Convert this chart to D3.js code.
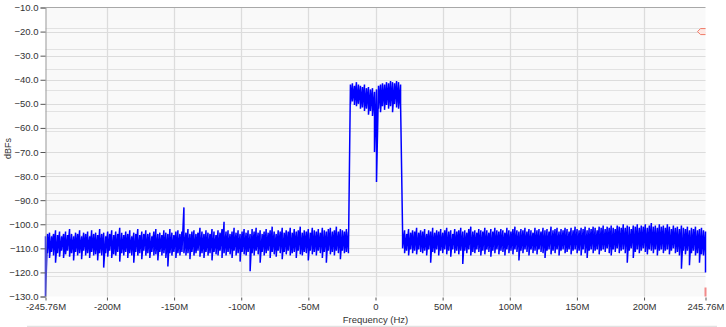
<!DOCTYPE html>
<html>
<head>
<meta charset="utf-8">
<script src="https://cdn.jsdelivr.net/npm/d3@7"></script>
<style>
  html, body { margin: 0; padding: 0; background: #ffffff; }
  svg { display: block; }
  text { font-family: "Liberation Sans", Arial, sans-serif; fill: #333; }
</style>
</head>
<body>
<script>
// ---- Data ----
const freqStartMHz = -245.76;
const freqEndMHz = 245.76;
const xTickValues = [-245.76, -200, -150, -100, -50, 0, 50, 100, 150, 200, 245.76];
const xTickLabels = ["-245.76M", "-200M", "-150M", "-100M", "-50M", "0", "50M", "100M", "150M", "200M", "245.76M"];
const xGridValues = [-200, -150, -100, -50, 0, 50, 100, 150, 200];
const yTickValues = [-10, -20, -30, -40, -50, -60, -70, -80, -90, -100, -110, -120, -130];
const yDomain = [-130, -10];
const minorGridDivisions = 14;
const markerLevel = -20;

// spectrum bins: per bin, the upper and lower excursion of the trace (dBFs)
const leftNoiseHi = [
 -105,-104,-103.5,-105,-104,-102.5,-104.5,-103,-105,-104,
 -103,-104.5,-102,-104,-105,-103.5,-104,-102.5,-105,-103.5,
 -104,-103,-105,-102.5,-104,-103.5,-104.5,-102,-104,-103.5,
 -105,-103,-104,-102.5,-104.5,-103,-104,-101.5,-103.5,-104.5,
 -103,-104,-102.5,-105,-103.5,-104,-102,-104.5,-103,-104,
 -102.5,-104,-103.5,-105,-103,-102,-104,-103.5,-104.5,-102.5,
 -103.5,-104,-102,-103.5,-104.5,-103,-102.5,-104,-103,-93,
 -103.5,-102,-104,-103,-102.5,-104,-103.5,-101.5,-103,-104,
 -102.5,-103.5,-104,-102,-103,-104.5,-102.5,-103.5,-102,-99,
 -103,-102.5,-104,-103,-101.5,-103.5,-102.5,-104,-103,-102,
 -103.5,-102.5,-104,-102,-103,-101.5,-103.5,-102.5,-104,-103,
 -102,-103.5,-102.5,-101,-103,-104,-102.5,-103,-101.5,-103.5,
 -102.5,-103,-101.5,-103.5,-102,-103,-102.5,-101,-103.5,-102.5,
 -103,-102,-103.5,-101.5,-102.5,-103,-102,-103.5,-101.5,-102.5,
 -103,-102,-101.5,-103,-102.5,-101,-103,-102,-102.5,-103,
 -102,-103
];
const leftNoiseLo = [
 -130,-112,-114,-111.5,-113,-116,-112,-113.5,-111,-114,
 -112.5,-111,-113.5,-112,-115,-111.5,-113,-112,-114.5,-111,
 -113,-112,-114,-111.5,-113,-112.5,-115,-112,-113,-118,
 -112,-113.5,-111,-114,-112.5,-113,-111.5,-115.5,-112,-113,
 -111.5,-114,-112,-113,-116,-111.5,-113,-112,-114.5,-111,
 -113,-112,-114,-111.5,-113,-112.5,-115,-111.5,-113,-112,
 -114,-117.5,-112,-113,-111.5,-114,-112,-113,-111.5,-112,
 -113,-112,-114.5,-111.5,-113,-112,-111,-113.5,-112,-114,
 -111.5,-113,-112,-115,-111.5,-112.5,-113,-111,-114,-112,
 -113,-111.5,-112.5,-114,-111,-113,-112,-115.5,-111.5,-112.5,
 -113,-111.5,-119.5,-112,-113,-111,-112.5,-116,-111.5,-113,
 -112,-111,-114,-111.5,-112.5,-113.5,-111,-112,-114.5,-111.5,
 -112.5,-111,-113,-112,-111.5,-114,-111,-112.5,-113,-111.5,
 -112,-115,-111,-112.5,-111.5,-113,-111,-112,-114,-111.5,
 -116,-111,-112.5,-111.5,-113,-111,-112,-114.5,-111,-112,
 -111.5,-112
];
const bandHi = [
 -42,-41.5,-42.5,-41,-42,-42.5,-43,-42,-43.5,-43,
 -44,-43.5,-45,-44,-42.5,-42,-41.5,-42,-41,-41.5,
 -40.5,-41,-41.5,-40.5,-41,-42
];
const bandLo = [
 -50,-49,-50.5,-51,-50,-52,-51.5,-53,-52,-54.5,
 -53,-55,-70,-82.5,-52,-53.5,-51,-52.5,-50.5,-52,
 -51,-53.5,-50,-51.5,-52,-50
];
const rightNoiseHi = [
 -103,-102.5,-104,-102,-103.5,-102.5,-103,-101.5,-103.5,-102.5,
 -103,-102,-104,-102.5,-103,-101.5,-103.5,-102.5,-103,-102,
 -103.5,-102.5,-101.5,-103,-102.5,-104,-102,-103,-102.5,-101.5,
 -103,-102.5,-103.5,-102,-101,-103,-102.5,-103.5,-102,-102.5,
 -103,-101.5,-102.5,-103.5,-102,-103,-101.5,-102.5,-103,-102,
 -102.5,-103.5,-101.5,-102.5,-103,-102,-101,-102.5,-103,-102,
 -102.5,-101.5,-103,-102,-102.5,-103.5,-101.5,-102.5,-102,-103,
 -101.5,-102.5,-102,-103,-101,-102.5,-102,-101.5,-103,-102,
 -102.5,-101.5,-102,-103,-101.5,-102.5,-101,-102,-102.5,-101.5,
 -102,-101,-102.5,-101.5,-102,-101,-101.5,-102.5,-101,-101.5,
 -100.5,-102,-101,-101.5,-100.5,-101.5,-102,-100.5,-101,-101.5,
 -100,-101.5,-100.5,-101,-102,-100.5,-101,-100,-101.5,-100.5,
 -101,-100,-101.5,-100.5,-99.5,-101,-100.5,-101.5,-100,-101,
 -100.5,-101.5,-100,-101,-102,-100.5,-101.5,-101,-102,-100.5,
 -101.5,-102,-101,-102.5,-101.5,-102,-101,-102.5,-102,-101.5,
 -102.5,-103
];
const rightNoiseLo = [
 -110,-112,-111,-113,-110.5,-112,-111,-112.5,-110.5,-111.5,
 -112,-111,-113,-110.5,-116,-111.5,-112,-110.5,-113,-111,
 -112,-110.5,-112.5,-111,-113.5,-110.5,-112,-111,-112.5,-111,
 -116.5,-111,-112,-110.5,-113,-111.5,-112,-110.5,-111.5,-113,
 -111,-112.5,-110.5,-111.5,-113.5,-111,-112,-110.5,-112.5,-111,
 -111.5,-113,-110.5,-112,-111,-112.5,-110.5,-111.5,-115,-111,
 -112,-110.5,-111.5,-113,-110.5,-112,-111,-112.5,-110.5,-111.5,
 -112,-114,-111,-110.5,-112.5,-111,-112,-110.5,-113,-111,
 -110.5,-112,-111.5,-110.5,-112.5,-111,-110.5,-112,-111,-113,
 -110.5,-112,-114,-111,-110.5,-112,-111,-110.5,-112.5,-111,
 -110.5,-111.5,-110,-112,-113,-110.5,-111.5,-110,-112,-111,
 -110.5,-112,-116,-111,-110,-114,-111.5,-110.5,-112,-111,
 -110,-111.5,-112.5,-110.5,-111,-112,-110.5,-113,-111,-110.5,
 -112,-111,-110.5,-112.5,-111,-110,-112,-111.5,-113,-118.5,
 -111,-112.5,-111,-117,-112,-111,-113,-112,-116,-112.5,
 -113,-120
];

// ---- Build ----
const W = 726, H = 327;
const plot = { left: 45.5, right: 705.5, top: 7.5, bottom: 296.5 };

const svg = d3.select("body").append("svg").attr("width", W).attr("height", H);

const x = d3.scaleLinear().domain([freqStartMHz, freqEndMHz]).range([plot.left, plot.right]);
const y = d3.scaleLinear().domain(yDomain).range([plot.bottom, plot.top]);

// plot background
svg.append("rect")
  .attr("x", plot.left).attr("y", plot.top)
  .attr("width", plot.right - plot.left).attr("height", plot.bottom - plot.top)
  .attr("fill", "#f9f9f9");

// minor horizontal grid (secondary division)
const minorVals = d3.range(1, minorGridDivisions).map(k => yDomain[1] - k * (yDomain[1] - yDomain[0]) / minorGridDivisions);
svg.append("g").selectAll("line").data(minorVals).join("line")
  .attr("x1", plot.left).attr("x2", plot.right)
  .attr("y1", d => Math.round(y(d)) + 0.5).attr("y2", d => Math.round(y(d)) + 0.5)
  .attr("stroke", "#e2e2e2").attr("stroke-width", 1);

// major horizontal grid
svg.append("g").selectAll("line").data(yTickValues.filter(v => v > yDomain[0] && v < yDomain[1])).join("line")
  .attr("x1", plot.left).attr("x2", plot.right)
  .attr("y1", d => Math.round(y(d)) + 0.5).attr("y2", d => Math.round(y(d)) + 0.5)
  .attr("stroke", "#dcdcdc").attr("stroke-width", 1);

// vertical grid
svg.append("g").selectAll("line").data(xGridValues).join("line")
  .attr("x1", d => Math.round(x(d)) + 0.5).attr("x2", d => Math.round(x(d)) + 0.5)
  .attr("y1", plot.top).attr("y2", plot.bottom)
  .attr("stroke", "#dcdcdc").attr("stroke-width", 1.3);

// top border
svg.append("line")
  .attr("x1", plot.left).attr("x2", plot.right)
  .attr("y1", plot.top).attr("y2", plot.top)
  .attr("stroke", "#a8a8a8").attr("stroke-width", 1);

// spectrum trace (each bin drawn as its vertical excursion hi -> lo)
const hi = leftNoiseHi.concat(bandHi, rightNoiseHi);
const lo = leftNoiseLo.concat(bandLo, rightNoiseLo);
const nBins = hi.length;
const binStep = (freqEndMHz - freqStartMHz) / (nBins - 1);
const pts = [];
for (let i = 0; i < nBins; i++) {
  const f = freqStartMHz + i * binStep;
  pts.push([f, hi[i]]);
  pts.push([f, lo[i]]);
}
const line = d3.line().x(d => x(d[0])).y(d => y(d[1]));
svg.append("path")
  .attr("d", line(pts))
  .attr("fill", "none")
  .attr("stroke", "#0000ff")
  .attr("stroke-width", 1.5)
  .attr("stroke-linejoin", "bevel");

// left axis
const yAxis = d3.axisLeft(y).tickValues(yTickValues).tickFormat(d3.format(".1f")).tickSize(5).tickPadding(2);
const gy = svg.append("g").attr("transform", `translate(${plot.left},0)`).call(yAxis);
gy.select(".domain").attr("stroke", "#9a9a9a");
gy.selectAll(".tick line").attr("stroke", "#555");
gy.selectAll(".tick text").style("font-size", "9.5px").attr("fill", "#333").style("font-family", '"Liberation Sans", Arial, sans-serif');

// bottom axis (ticks only)
const xAxis = d3.axisBottom(x).tickValues(xTickValues).tickFormat((d, i) => xTickLabels[i]).tickSize(3).tickPadding(3);
const gx = svg.append("g").attr("transform", `translate(0,${plot.bottom + 1})`).call(xAxis);
gx.select(".domain").remove();
gx.selectAll(".tick line").attr("stroke", "#555");
gx.selectAll(".tick text").style("font-size", "9.5px").attr("fill", "#333").style("font-family", '"Liberation Sans", Arial, sans-serif');

// axis titles
svg.append("text")
  .attr("transform", `translate(11,${y(-68.5)}) rotate(-90)`)
  .attr("text-anchor", "middle")
  .style("font-size", "9px")
  .text("dBFs");
svg.append("text")
  .attr("x", x(0)).attr("y", 323)
  .attr("text-anchor", "middle")
  .style("font-size", "9.5px")
  .text("Frequency (Hz)");

// bottom separator line
svg.append("line")
  .attr("x1", 27).attr("x2", 717).attr("y1", 326.5).attr("y2", 326.5)
  .attr("stroke", "#e2e2e2").attr("stroke-width", 1.5);

// level marker at right edge
const my = y(markerLevel);
svg.append("path")
  .attr("d", `M${plot.right},${my - 3} L${plot.right - 5},${my - 3} L${plot.right - 8},${my} L${plot.right - 5},${my + 3} L${plot.right},${my + 3}`)
  .attr("fill", "#fde8e4")
  .attr("stroke", "#f07a66")
  .attr("stroke-width", 1);

// end-of-span marker at bottom right
svg.append("rect")
  .attr("x", x(freqEndMHz) - 1).attr("y", y(yDomain[0]) - 9)
  .attr("width", 2).attr("height", 9)
  .attr("fill", "#f28a8a");
</script>
</body>
</html>
